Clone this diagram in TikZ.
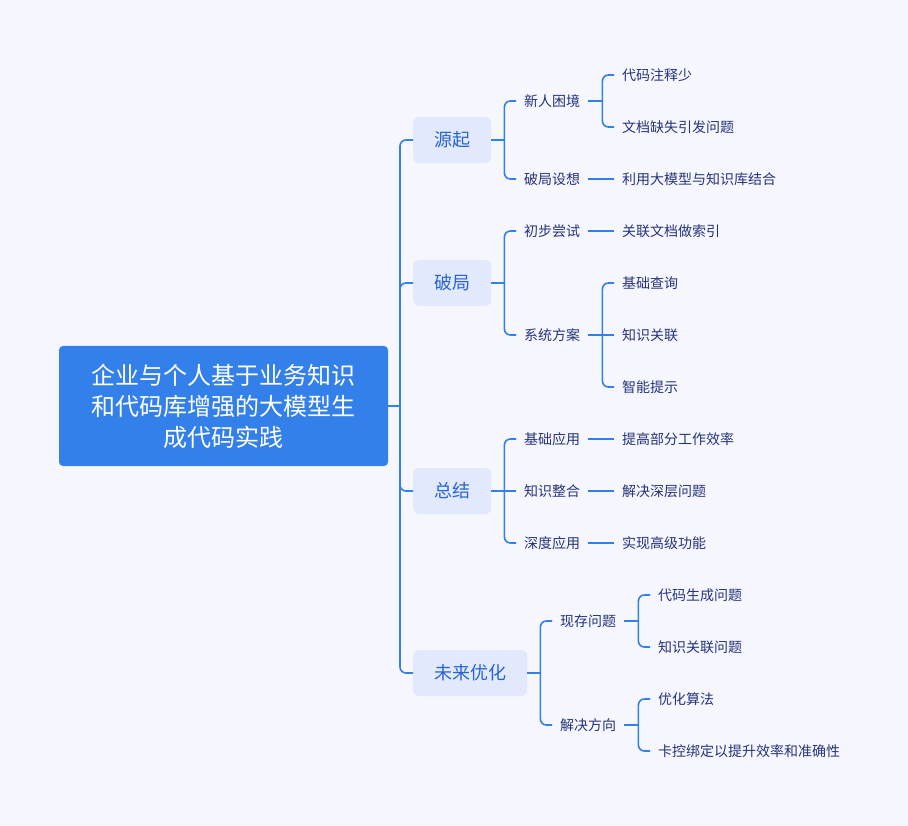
\documentclass[tikz,border=0pt]{standalone}
\usepackage{fontspec}
\setmainfont{Noto Sans CJK SC}
\usepackage{tikz}
\usetikzlibrary{positioning}
\definecolor{paper}{RGB}{245, 246, 254}
\definecolor{rootblue}{RGB}{51, 128, 234}
\definecolor{linkblue}{RGB}{52, 128, 234}
\definecolor{topicfill}{RGB}{226, 233, 253}
\definecolor{topictext}{RGB}{40, 100, 208}
\definecolor{leaftext}{RGB}{38, 52, 122}
\tikzset{%
    rootbox/.style={%
        fill=rootblue, text=white, rounded corners=4pt,
        minimum width=329pt, minimum height=120pt,
        align=center, font=\fontsize{24}{31}\selectfont
    },
    topic/.style={%
        fill=topicfill, text=topictext, rounded corners=6pt,
        inner xsep=21pt, minimum height=46pt, anchor=west,
        font=\fontsize{18}{20}\selectfont
    },
    leaf/.style={%
        text=leaftext, inner xsep=8pt, inner ysep=2pt, anchor=west,
        font=\fontsize{14}{16}\selectfont
    },
    link/.style={linkblue, line width=1.6pt, rounded corners=6pt}
}

\begin{document}
\begin{tikzpicture}[x=1pt, y=-1pt]

    % Background
    \fill[paper] (0, 0) rectangle (908, 826);
    \useasboundingbox (0, 0) rectangle (908, 826);

    % Root
    \node[rootbox] (root) at (223.5, 406)
        {企业与个人基于业务知识\\和代码库增强的大模型生\\成代码实践};
    \coordinate (trunk) at (400, 406);
    \draw[link] (root.east) -- (trunk);

    % Main topics
    \node[topic] (origin) at (413, 140) {源起};
    \node[topic] (breakout) at (413, 283) {破局};
    \node[topic] (summary) at (413, 491) {总结};
    \node[topic] (future) at (413, 673) {未来优化};
    \foreach \t in {origin, breakout, summary, future}{%
        \draw[link] (trunk) |- (\t.west);
    };

    % Origin
    \node[leaf] (newcomer) at (516, 101) {新人困境};
    \node[leaf] (idea) at (516, 179) {破局设想};
    \node[leaf] (comments) at (614, 75) {代码注释少};
    \node[leaf] (nodocs) at (614, 127) {文档缺失引发问题};
    \node[leaf] (combine) at (614, 179) {利用大模型与知识库结合};
    \coordinate (originfork) at ([xshift=13pt] origin.east);
    \draw[link] (origin.east) -- (originfork);
    \foreach \c in {newcomer, idea}{%
        \draw[link] (originfork) |- (\c.west);
    };
    \coordinate (newcomerfork) at ([xshift=14pt] newcomer.east);
    \draw[link] (newcomer.east) -- (newcomerfork);
    \foreach \c in {comments, nodocs}{%
        \draw[link] (newcomerfork) |- (\c.west);
    };
    \draw[link] (idea.east) -- (combine.west);

    % Breakout
    \node[leaf] (firsttry) at (516, 231) {初步尝试};
    \node[leaf] (system) at (516, 335) {系统方案};
    \node[leaf] (index) at (614, 231) {关联文档做索引};
    \node[leaf] (query) at (614, 283) {基础查询};
    \node[leaf] (relate) at (614, 335) {知识关联};
    \node[leaf] (hint) at (614, 387) {智能提示};
    \coordinate (breakoutfork) at ([xshift=13pt] breakout.east);
    \draw[link] (breakout.east) -- (breakoutfork);
    \foreach \c in {firsttry, system}{%
        \draw[link] (breakoutfork) |- (\c.west);
    };
    \draw[link] (firsttry.east) -- (index.west);
    \coordinate (systemfork) at ([xshift=14pt] system.east);
    \draw[link] (system.east) -- (relate.west);
    \foreach \c in {query, hint}{%
        \draw[link] (systemfork) |- (\c.west);
    };

    % Summary
    \node[leaf] (basicuse) at (516, 439) {基础应用};
    \node[leaf] (merge) at (516, 491) {知识整合};
    \node[leaf] (deepuse) at (516, 543) {深度应用};
    \node[leaf] (efficiency) at (614, 439) {提高部分工作效率};
    \node[leaf] (deepissue) at (614, 491) {解决深层问题};
    \node[leaf] (advanced) at (614, 543) {实现高级功能};
    \coordinate (summaryfork) at ([xshift=13pt] summary.east);
    \draw[link] (summary.east) -- (merge.west);
    \foreach \c in {basicuse, deepuse}{%
        \draw[link] (summaryfork) |- (\c.west);
    };
    \draw[link] (basicuse.east) -- (efficiency.west);
    \draw[link] (merge.east) -- (deepissue.west);
    \draw[link] (deepuse.east) -- (advanced.west);

    % Future
    \node[leaf] (problems) at (552, 621) {现存问题};
    \node[leaf] (direction) at (552, 725) {解决方向};
    \node[leaf] (codegen) at (650, 595) {代码生成问题};
    \node[leaf] (linkissue) at (650, 647) {知识关联问题};
    \node[leaf] (algo) at (650, 699) {优化算法};
    \node[leaf] (binding) at (650, 751) {卡控绑定以提升效率和准确性};
    \coordinate (futurefork) at ([xshift=13pt] future.east);
    \draw[link] (future.east) -- (futurefork);
    \foreach \c in {problems, direction}{%
        \draw[link] (futurefork) |- (\c.west);
    };
    \coordinate (problemsfork) at ([xshift=14pt] problems.east);
    \draw[link] (problems.east) -- (problemsfork);
    \foreach \c in {codegen, linkissue}{%
        \draw[link] (problemsfork) |- (\c.west);
    };
    \coordinate (directionfork) at ([xshift=14pt] direction.east);
    \draw[link] (direction.east) -- (directionfork);
    \foreach \c in {algo, binding}{%
        \draw[link] (directionfork) |- (\c.west);
    };

\end{tikzpicture}
\end{document}
